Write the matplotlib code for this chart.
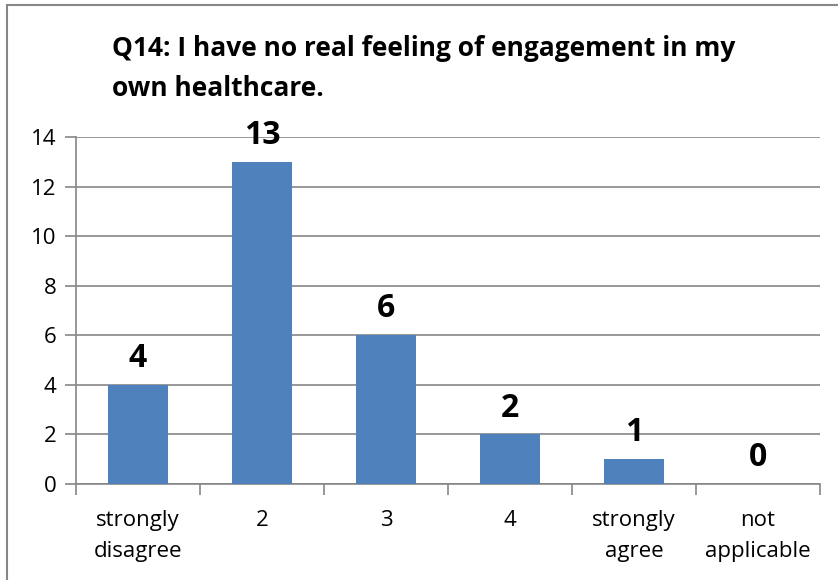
import matplotlib.pyplot as plt
from matplotlib.patches import Rectangle

# Data
categories = ["strongly\ndisagree", "2", "3", "4", "strongly\nagree", "not\napplicable"]
counts = [4, 13, 6, 2, 1, 0]
y_ticks = [0, 2, 4, 6, 8, 10, 12, 14]

plt.rcParams['font.family'] = ['Open Sans', 'DejaVu Sans']

fig = plt.figure(figsize=(8.38, 5.8), dpi=100)

# outer chart border (Excel style)
fig.patches.append(Rectangle((7 / 838, -0.05), 1.0, (580 - 5) / 580 + 0.05,
                             transform=fig.transFigure, fill=False,
                             edgecolor='#868686', linewidth=1.5))

ax = fig.add_axes([76 / 838, 96 / 580, (820 - 76) / 838, (484 - 137) / 580])

x = list(range(len(categories)))
ax.bar(x, counts, width=0.49, color='#4F81BD', zorder=3)

for xi, v in zip(x, counts):
    ax.text(xi, v + 0.4, str(v), ha='center', va='bottom',
            fontsize=23, fontweight='bold', zorder=4)

ax.set_xlim(-0.5, len(categories) - 0.5)
ax.set_ylim(0, 14)
ax.set_yticks(y_ticks)
ax.yaxis.grid(True, color='#868686', linewidth=1.2, zorder=0)
ax.tick_params(axis='y', length=8, color='#868686', width=1.2, labelsize=16, pad=6)

# categories between tick marks
ax.set_xticks([i - 0.5 for i in range(len(categories) + 1)])
ax.set_xticklabels([])
ax.set_xticks(x, minor=True)
ax.set_xticklabels(categories, minor=True, fontsize=16, linespacing=1.6)
ax.tick_params(axis='x', which='major', length=8, color='#868686', width=1.2)
ax.tick_params(axis='x', which='minor', length=0, pad=19)

for side in ['top', 'right']:
    ax.spines[side].set_visible(False)
for side in ['left', 'bottom']:
    ax.spines[side].set_color('#868686')
    ax.spines[side].set_linewidth(1.2)

fig.text(112 / 838, 1 - 48 / 580, "Q14: I have no real feeling of engagement in my",
         fontsize=19, fontweight='bold', va='center', ha='left')
fig.text(112 / 838, 1 - 88 / 580, "own healthcare.",
         fontsize=19, fontweight='bold', va='center', ha='left')

fig.savefig('out.png', dpi=100)
